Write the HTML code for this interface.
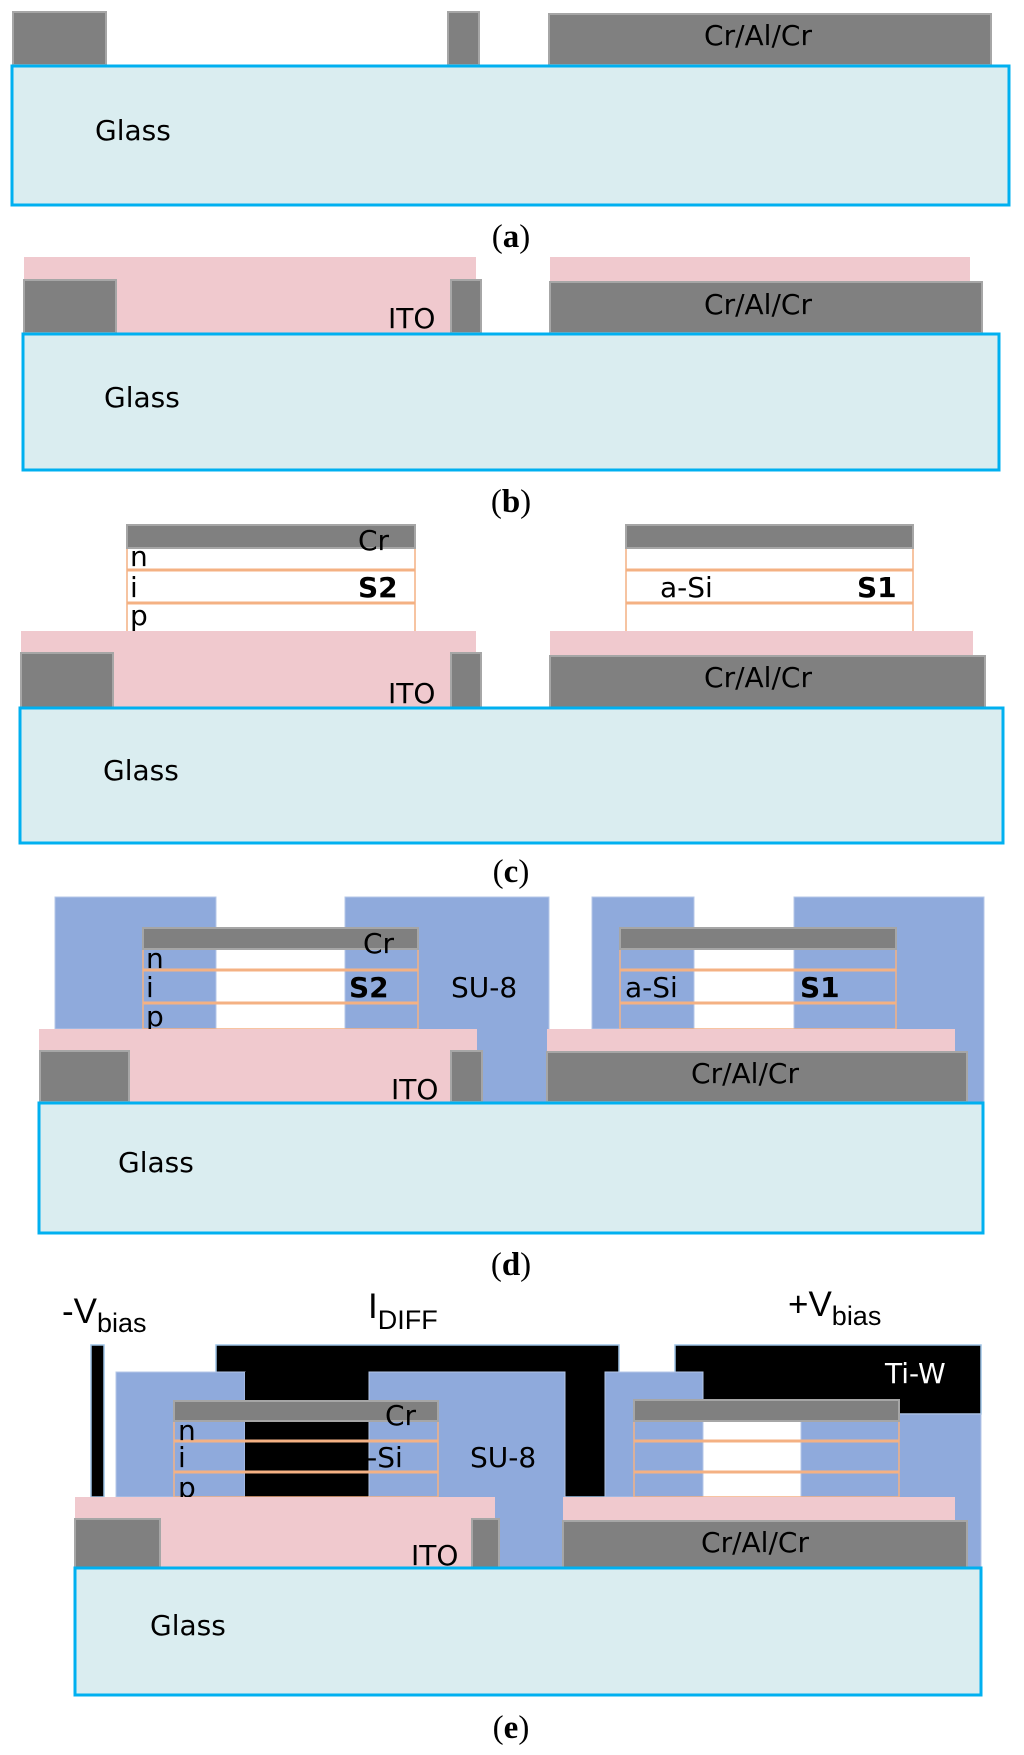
<!DOCTYPE html>
<html><head><meta charset="utf-8"><style>
html,body{margin:0;padding:0;background:#fff;}
svg{display:block;}
text{font-family:"DejaVu Sans","Liberation Sans",sans-serif;font-size:28px;fill:#000;}
.lab{font-family:"Liberation Serif",serif;font-size:33px;}
.ar{font-family:"Liberation Sans",sans-serif;font-size:35px;}
.sub{font-family:"Liberation Sans",sans-serif;font-size:27px;}
.g{fill:#808080;stroke:#a6a6a6;stroke-width:2;}
.gl{fill:#daedf0;stroke:#00b0f0;stroke-width:3;}
.pk{fill:#f0c9ce;}
.su{fill:#8faadc;stroke:#b4c7e7;stroke-width:1;}
.bk{fill:#000;stroke:#9dc3e6;stroke-width:1.5;}
.ol{stroke:#f4b183;stroke-width:3;fill:none;}
.ob{stroke:#f4b183;stroke-width:1.5;fill:none;}
</style></head><body>
<svg width="1024" height="1755" viewBox="0 0 1024 1755" xmlns="http://www.w3.org/2000/svg">
<!-- (a) -->
<rect class="g" x="13" y="12" width="93" height="53"/>
<rect class="g" x="448" y="12" width="31" height="53"/>
<rect class="g" x="549" y="14" width="442" height="51"/>
<text x="758" y="45" text-anchor="middle">Cr/Al/Cr</text>
<rect class="gl" x="12" y="66" width="997" height="139"/>
<text x="95" y="140">Glass</text>
<text class="lab" x="511" y="247" text-anchor="middle">(<tspan font-weight="bold">a</tspan>)</text>

<!-- (b) -->
<rect class="pk" x="24" y="257" width="452" height="76"/>
<rect class="pk" x="550" y="257" width="420" height="26"/>
<rect class="g" x="24" y="280" width="92" height="53"/>
<rect class="g" x="451" y="280" width="30" height="53"/>
<rect class="g" x="550" y="282" width="432" height="51"/>
<text x="388" y="328">ITO</text>
<text x="758" y="314" text-anchor="middle">Cr/Al/Cr</text>
<rect class="gl" x="23" y="334" width="976" height="136"/>
<text x="104" y="407">Glass</text>
<text class="lab" x="511" y="512" text-anchor="middle">(<tspan font-weight="bold">b</tspan>)</text>

<!-- (c) -->
<rect fill="#fff" x="127" y="548" width="288" height="84"/>
<rect fill="#fff" x="626" y="548" width="287" height="84"/>
<rect class="ob" x="127" y="548" width="288" height="84"/>
<rect class="ob" x="626" y="548" width="287" height="84"/>
<line class="ol" x1="127" y1="570" x2="415" y2="570"/><line class="ol" x1="127" y1="603" x2="415" y2="603"/>
<line class="ol" x1="626" y1="570" x2="913" y2="570"/><line class="ol" x1="626" y1="603" x2="913" y2="603"/>
<rect class="g" x="127" y="525" width="288" height="23"/>
<rect class="g" x="626" y="525" width="287" height="23"/>
<text x="358" y="550">Cr</text>
<text x="130" y="566">n</text><text x="130" y="597">i</text><text x="130" y="625">p</text>
<text x="358" y="597" font-weight="bold">S2</text>
<text x="660" y="597">a-Si</text>
<text x="857" y="597" font-weight="bold">S1</text>
<rect class="pk" x="21" y="631" width="455" height="77"/>
<rect class="pk" x="550" y="631" width="423" height="25"/>
<rect class="g" x="21" y="653" width="92" height="55"/>
<rect class="g" x="451" y="653" width="30" height="55"/>
<rect class="g" x="550" y="656" width="435" height="52"/>
<text x="388" y="703">ITO</text>
<text x="758" y="687" text-anchor="middle">Cr/Al/Cr</text>
<rect class="gl" x="20" y="708" width="983" height="135"/>
<text x="103" y="780">Glass</text>
<text class="lab" x="511" y="882" text-anchor="middle">(<tspan font-weight="bold">c</tspan>)</text>

<!-- (d) -->
<rect fill="#fff" x="143" y="949" width="275" height="80"/>
<rect fill="#fff" x="620" y="949" width="276" height="80"/>
<rect class="su" x="55" y="897" width="161" height="132"/>
<rect class="su" x="345" y="897" width="204" height="205"/>
<rect class="su" x="592" y="897" width="102" height="132"/>
<rect class="su" x="794" y="897" width="190" height="205"/>
<rect class="ob" x="143" y="949" width="275" height="80"/>
<rect class="ob" x="620" y="949" width="276" height="80"/>
<line class="ol" x1="143" y1="970" x2="418" y2="970"/><line class="ol" x1="143" y1="1003" x2="418" y2="1003"/>
<line class="ol" x1="620" y1="970" x2="896" y2="970"/><line class="ol" x1="620" y1="1003" x2="896" y2="1003"/>
<rect class="g" x="143" y="928" width="275" height="21"/>
<rect class="g" x="620" y="928" width="276" height="21"/>
<text x="363" y="953">Cr</text>
<text x="146" y="968">n</text><text x="146" y="997">i</text><text x="146" y="1026">p</text>
<text x="349" y="997" font-weight="bold">S2</text>
<text x="451" y="997">SU-8</text>
<text x="625" y="997">a-Si</text>
<text x="800" y="997" font-weight="bold">S1</text>
<rect class="pk" x="39" y="1029" width="438" height="73"/>
<rect class="pk" x="547" y="1029" width="408" height="24"/>
<rect class="g" x="40" y="1051" width="89" height="51"/>
<rect class="g" x="451" y="1051" width="31" height="51"/>
<rect class="g" x="547" y="1052" width="420" height="50"/>
<text x="391" y="1099">ITO</text>
<text x="745" y="1083" text-anchor="middle">Cr/Al/Cr</text>
<rect class="gl" x="39" y="1103" width="944" height="130"/>
<text x="118" y="1172">Glass</text>
<text class="lab" x="511" y="1275" text-anchor="middle">(<tspan font-weight="bold">d</tspan>)</text>

<!-- (e) -->
<text class="ar" x="62" y="1323">-V<tspan class="sub" dy="9">bias</tspan></text>
<text class="ar" x="368" y="1318">I<tspan class="sub" dy="11">DIFF</tspan></text>
<text class="ar" x="788" y="1316">+V<tspan class="sub" dy="9">bias</tspan></text>
<rect class="bk" x="91" y="1345" width="13" height="152"/>
<rect fill="#fff" x="634" y="1421" width="265" height="76"/>
<rect class="bk" x="216" y="1345" width="403" height="152"/>
<rect class="bk" x="675" y="1345" width="306" height="69"/>
<text x="885" y="1383" style="fill:#fff">Ti-W</text>
<rect class="su" x="116" y="1372" width="129" height="125"/>
<rect class="su" x="369" y="1372" width="196" height="196"/>
<text x="350" y="1467">a-Si</text>
<rect fill="#000" x="245" y="1372" width="123" height="125"/>
<rect class="su" x="605" y="1372" width="98" height="125"/>
<rect class="su" x="801" y="1414" width="180" height="154"/>
<rect class="su" x="634" y="1421" width="69" height="76"/>
<rect class="ob" x="174" y="1421" width="264" height="76"/>
<rect class="ob" x="634" y="1421" width="265" height="76"/>
<line class="ol" x1="174" y1="1441" x2="438" y2="1441"/><line class="ol" x1="174" y1="1472" x2="438" y2="1472"/>
<line class="ol" x1="634" y1="1441" x2="899" y2="1441"/><line class="ol" x1="634" y1="1472" x2="899" y2="1472"/>
<rect class="g" x="174" y="1401" width="264" height="20"/>
<rect class="g" x="634" y="1400" width="265" height="21"/>
<text x="385" y="1425">Cr</text>
<text x="178" y="1440">n</text><text x="178" y="1467">i</text><text x="178" y="1497">p</text>
<text x="470" y="1467">SU-8</text>
<rect class="pk" x="75" y="1497" width="420" height="71"/>
<rect class="pk" x="563" y="1497" width="392" height="24"/>
<rect class="g" x="75" y="1519" width="85" height="49"/>
<rect class="g" x="472" y="1519" width="27" height="49"/>
<rect class="g" x="563" y="1521" width="404" height="47"/>
<text x="411" y="1565">ITO</text>
<text x="755" y="1552" text-anchor="middle">Cr/Al/Cr</text>
<rect class="gl" x="75" y="1568" width="906" height="127"/>
<text x="150" y="1635">Glass</text>
<text class="lab" x="511" y="1738" text-anchor="middle">(<tspan font-weight="bold">e</tspan>)</text>
</svg>
</body></html>
